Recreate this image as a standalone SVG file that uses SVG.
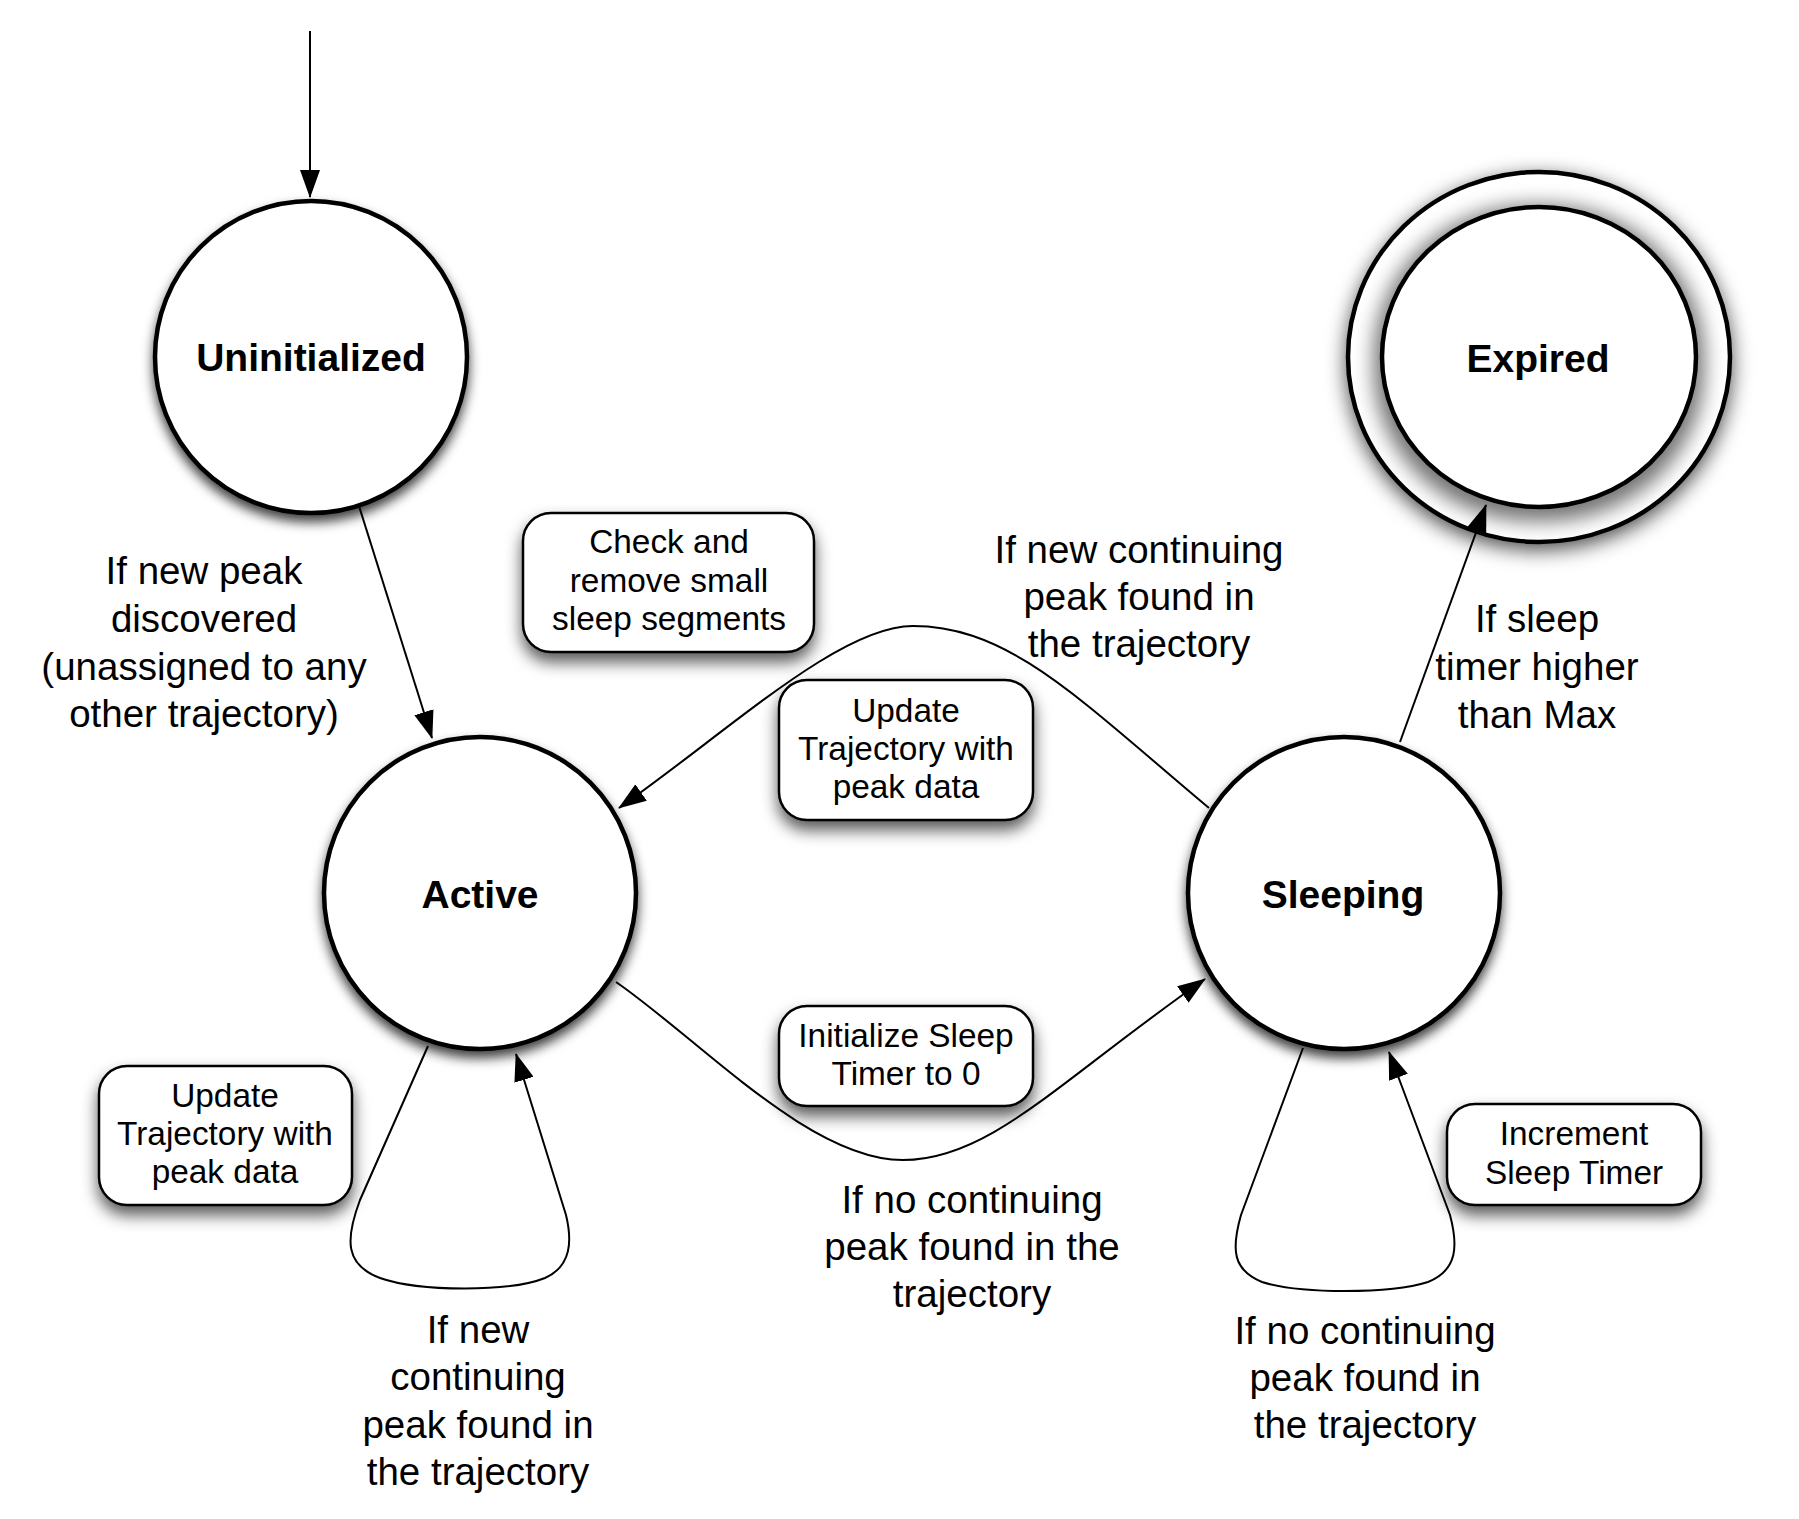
<svg xmlns="http://www.w3.org/2000/svg" width="1799" height="1519" viewBox="0 0 1799 1519">
<defs>
<filter id="sh" x="-20%" y="-20%" width="140%" height="150%">
<feDropShadow dx="0" dy="7" stdDeviation="6" flood-color="#000" flood-opacity="0.75"/>
</filter>
<filter id="esh" x="-25%" y="-25%" width="150%" height="160%">
<feDropShadow dx="0" dy="6" stdDeviation="10" flood-color="#000" flood-opacity="0.7"/>
</filter>
<filter id="ish" x="-25%" y="-25%" width="150%" height="160%">
<feMorphology in="SourceAlpha" operator="dilate" radius="6" result="d"/>
<feGaussianBlur in="d" stdDeviation="10" result="b"/>
<feOffset in="b" dx="0" dy="6" result="o"/>
<feComponentTransfer in="o" result="s"><feFuncA type="linear" slope="0.55"/></feComponentTransfer>
<feMerge><feMergeNode in="s"/><feMergeNode in="SourceGraphic"/></feMerge>
</filter>
<filter id="bsh" x="-20%" y="-20%" width="140%" height="170%">
<feDropShadow dx="0" dy="9" stdDeviation="8" flood-color="#000" flood-opacity="0.65"/>
</filter>
<marker id="arr" viewBox="0 0 28 20" refX="27" refY="10" markerWidth="28" markerHeight="20" orient="auto" markerUnits="userSpaceOnUse">
<path d="M0,0 L28,10 L0,20 z" fill="#000"/>
</marker>
</defs>
<style>
.state{fill:#fff;stroke:#000;stroke-width:4.5}
.box{fill:#fff;stroke:#000;stroke-width:2.5}
.name{font-family:"Liberation Sans",Arial,Helvetica,sans-serif;font-weight:bold;font-size:39px;text-anchor:middle;fill:#000}
.lbl{font-family:"Liberation Sans",Arial,Helvetica,sans-serif;font-size:38.5px;text-anchor:middle;fill:#000}
.btxt{font-family:"Liberation Sans",Arial,Helvetica,sans-serif;font-size:33.4px;text-anchor:middle;fill:#000}
.edge{fill:none;stroke:#000;stroke-width:2}
</style>
<rect width="1799" height="1519" fill="#fff"/>

<g id="uninitialized">
<circle class="state" cx="311" cy="357" r="156" filter="url(#sh)"/>
<text class="name" x="311" y="371">Uninitialized</text>
</g>

<g id="expired">
<ellipse class="state" cx="1539" cy="357" rx="191" ry="185" stroke-width="4" filter="url(#esh)"/>
<ellipse class="state" cx="1539" cy="357" rx="157" ry="150" stroke-width="4" filter="url(#ish)"/>
<text class="name" x="1538" y="372">Expired</text>
</g>

<g id="active">
<circle class="state" cx="480" cy="893" r="156" filter="url(#sh)"/>
<text class="name" x="480" y="908">Active</text>
</g>

<g id="sleeping">
<circle class="state" cx="1344" cy="893" r="156" filter="url(#sh)"/>
<text class="name" x="1343" y="908">Sleeping</text>
</g>

<g id="box-check">
<rect class="box" x="523" y="513" width="291" height="139" rx="28" filter="url(#bsh)"/>
<text class="btxt" x="669" y="553">Check and</text>
<text class="btxt" x="669" y="592">remove small</text>
<text class="btxt" x="669" y="630">sleep segments</text>
</g>

<g id="box-update-top">
<rect class="box" x="779" y="680" width="254" height="140" rx="28" filter="url(#bsh)"/>
<text class="btxt" x="906" y="722">Update</text>
<text class="btxt" x="906" y="760">Trajectory with</text>
<text class="btxt" x="906" y="798">peak data</text>
</g>

<g id="box-update-left">
<rect class="box" x="99" y="1066" width="253" height="139" rx="28" filter="url(#bsh)"/>
<text class="btxt" x="225" y="1107">Update</text>
<text class="btxt" x="225" y="1145">Trajectory with</text>
<text class="btxt" x="225" y="1183">peak data</text>
</g>

<g id="box-init">
<rect class="box" x="779" y="1006" width="254" height="100" rx="28" filter="url(#bsh)"/>
<text class="btxt" x="906" y="1047">Initialize Sleep</text>
<text class="btxt" x="906" y="1085">Timer to 0</text>
</g>

<g id="box-increment">
<rect class="box" x="1447" y="1104" width="254" height="101" rx="28" filter="url(#bsh)"/>
<text class="btxt" x="1574" y="1145">Increment</text>
<text class="btxt" x="1574" y="1184">Sleep Timer</text>
</g>

<g id="connectors">
<path class="edge" d="M310,31 L310,197" marker-end="url(#arr)"/>
<path class="edge" d="M359,506 L432,738" marker-end="url(#arr)"/>
<path class="edge" d="M1209,808 C1080,700 1010,626 913,626 C840,626 730,730 619,808" marker-end="url(#arr)"/>
<path class="edge" d="M616,982 C700,1040 810,1160 903,1160 C990,1160 1060,1080 1205,979" marker-end="url(#arr)"/>
<path class="edge" d="M428,1046 L360,1200 C345,1240 345,1265 380,1278 C420,1292 510,1292 545,1278 C572,1266 572,1240 566,1215 L516,1054" marker-end="url(#arr)"/>
<path class="edge" d="M1303,1048 L1241,1215 C1231,1250 1233,1270 1262,1282 C1300,1294 1390,1294 1428,1282 C1458,1270 1458,1245 1450,1215 L1389,1052" marker-end="url(#arr)"/>
<path class="edge" d="M1400,742 L1486,505" marker-end="url(#arr)"/>
</g>

<g id="labels">
<text class="lbl" x="204" y="584">If new peak</text>
<text class="lbl" x="204" y="632">discovered</text>
<text class="lbl" x="204" y="680">(unassigned to any</text>
<text class="lbl" x="204" y="727">other trajectory)</text>

<text class="lbl" x="1139" y="563">If new continuing</text>
<text class="lbl" x="1139" y="610">peak found in</text>
<text class="lbl" x="1139" y="657">the trajectory</text>

<text class="lbl" x="1537" y="632">If sleep</text>
<text class="lbl" x="1537" y="680">timer higher</text>
<text class="lbl" x="1537" y="728">than Max</text>

<text class="lbl" x="972" y="1213">If no continuing</text>
<text class="lbl" x="972" y="1260">peak found in the</text>
<text class="lbl" x="972" y="1307">trajectory</text>

<text class="lbl" x="478" y="1343">If new</text>
<text class="lbl" x="478" y="1390">continuing</text>
<text class="lbl" x="478" y="1438">peak found in</text>
<text class="lbl" x="478" y="1485">the trajectory</text>

<text class="lbl" x="1365" y="1344">If no continuing</text>
<text class="lbl" x="1365" y="1391">peak found in</text>
<text class="lbl" x="1365" y="1438">the trajectory</text>
</g>
</svg>
